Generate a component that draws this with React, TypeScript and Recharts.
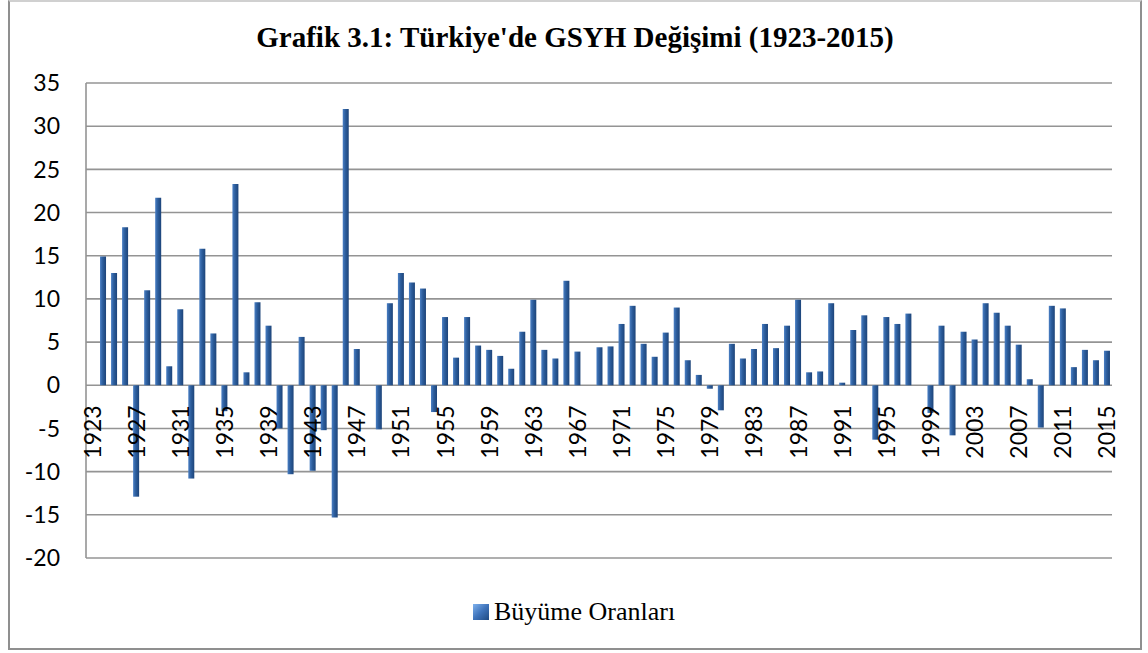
import React from 'react'
import { Bar, BarChart, CartesianGrid, Legend, XAxis, YAxis } from 'recharts'

const years = [
  '1923', '1924', '1925', '1926', '1927', '1928', '1929', '1930', '1931', '1932',
  '1933', '1934', '1935', '1936', '1937', '1938', '1939', '1940', '1941', '1942',
  '1943', '1944', '1945', '1946', '1947', '1948', '1949', '1950', '1951', '1952',
  '1953', '1954', '1955', '1956', '1957', '1958', '1959', '1960', '1961', '1962',
  '1963', '1964', '1965', '1966', '1967', '1968', '1969', '1970', '1971', '1972',
  '1973', '1974', '1975', '1976', '1977', '1978', '1979', '1980', '1981', '1982',
  '1983', '1984', '1985', '1986', '1987', '1988', '1989', '1990', '1991', '1992',
  '1993', '1994', '1995', '1996', '1997', '1998', '1999', '2000', '2001', '2002',
  '2003', '2004', '2005', '2006', '2007', '2008', '2009', '2010', '2011', '2012',
  '2013', '2014', '2015',
]

// Büyüme oranları (%), boş yıllar null
const growth: (number | null)[] = [
  null, 14.9, 13.0, 18.3, -12.9, 11.0, 21.7, 2.2, 8.8, -10.8,
  15.8, 6.0, -3.0, 23.3, 1.5, 9.6, 6.9, -5.0, -10.3, 5.6,
  -9.9, -5.2, -15.3, 32.0, 4.2, null, -5.1, 9.5, 13.0, 11.9,
  11.2, -3.1, 7.9, 3.2, 7.9, 4.6, 4.1, 3.4, 1.9, 6.2,
  9.9, 4.1, 3.1, 12.1, 3.9, null, 4.4, 4.5, 7.1, 9.2,
  4.8, 3.3, 6.1, 9.0, 2.9, 1.2, -0.4, -2.9, 4.8, 3.1,
  4.2, 7.1, 4.3, 6.9, 9.9, 1.5, 1.6, 9.5, 0.3, 6.4,
  8.1, -6.3, 7.9, 7.1, 8.3, null, -3.2, 6.9, -5.8, 6.2,
  5.3, 9.5, 8.4, 6.9, 4.7, 0.7, -4.9, 9.2, 8.9, 2.1,
  4.1, 2.9, 4.0,
]

const yTicks = [-20, -15, -10, -5, 0, 5, 10, 15, 20, 25, 30, 35]

const data = years.map((year, i) => ({ year, value: growth[i] }))

const W = 1148
const H = 653
const PLOT_TOP = 83
const PLOT_BOTTOM = 558
const PLOT_H = PLOT_BOTTOM - PLOT_TOP
const Y_MIN = -20
const Y_MAX = 35

const gridColor = '#949494'
const tickFont = "Lato, 'Open Sans', sans-serif"

function YearTick(props: any) {
  const { x, y, payload } = props
  // etiketler sıfır çizgisinin hemen altında
  const zeroY = y - (PLOT_H * (0 - Y_MIN)) / (Y_MAX - Y_MIN)
  const ty = zeroY + 20
  return (
    <text
      x={x}
      y={ty}
      transform={`rotate(-90 ${x} ${ty})`}
      textAnchor="end"
      dominantBaseline="central"
      style={{ fontFamily: tickFont, fontSize: 23 }}
      fill="#000"
    >
      {payload.value}
    </text>
  )
}

function LegendContent() {
  return (
    <div style={{ display: 'flex', justifyContent: 'center', alignItems: 'center' }}>
      <svg width={16} height={16} style={{ marginRight: 5 }}>
        <defs>
          <linearGradient id="legIcon" x1="0" y1="0" x2="1" y2="1">
            <stop offset="0%" stopColor="#7fb2ee" />
            <stop offset="50%" stopColor="#3f74bb" />
            <stop offset="100%" stopColor="#1f4a82" />
          </linearGradient>
        </defs>
        <rect x={0} y={0} width={16} height={16} fill="url(#legIcon)" />
      </svg>
      <span style={{ fontFamily: "'Liberation Serif', 'DejaVu Serif', serif", fontSize: 26, color: '#000' }}>
        Büyüme Oranları
      </span>
    </div>
  )
}

export default function App() {
  return (
    <div style={{ position: 'absolute', left: 0, top: 0, width: W, height: H, background: '#fff' }}>
      <div
        style={{
          position: 'absolute',
          left: 8,
          top: 0,
          width: 1134,
          height: 650,
          border: '2px solid #8f8f8f',
          borderTopColor: '#d0d0d0',
          boxSizing: 'border-box',
        }}
      />
      <div
        style={{
          position: 'absolute',
          left: 8,
          top: 23,
          width: 1134,
          textAlign: 'center',
          fontFamily: "'Liberation Serif', 'DejaVu Serif', serif",
          fontWeight: 'bold',
          fontSize: 29,
          lineHeight: 1,
          color: '#000',
        }}
      >
        Grafik 3.1: Türkiye'de GSYH Değişimi (1923-2015)
      </div>
      <div style={{ position: 'absolute', left: 0, top: 0 }}>
        <BarChart
          width={W}
          height={H}
          data={data}
          margin={{ top: PLOT_TOP, right: 36, bottom: H - PLOT_BOTTOM - 1, left: 26 }}
          barCategoryGap={0}
        >
          <defs>
            <linearGradient id="barFill" x1="0" y1="0" x2="1" y2="0">
              <stop offset="0%" stopColor="#4a7fc4" />
              <stop offset="45%" stopColor="#2c5d9c" />
              <stop offset="100%" stopColor="#1d4479" />
            </linearGradient>
          </defs>
          <CartesianGrid vertical={false} stroke={gridColor} strokeWidth={1.6} />
          <XAxis
            dataKey="year"
            height={1}
            interval={3}
            axisLine={false}
            tickLine={false}
            tickSize={0}
            tickMargin={0}
            tick={<YearTick />}
          />
          <YAxis
            width={60}
            domain={[Y_MIN, Y_MAX]}
            ticks={yTicks}
            allowDataOverflow
            axisLine={{ stroke: gridColor, strokeWidth: 1.6 }}
            tickLine={false}
            tickSize={0}
            tickMargin={26}
            tick={{ style: { fontFamily: tickFont, fontSize: 23 }, fill: '#000' }}
          />
          <Legend
            verticalAlign="middle"
            layout="horizontal"
            content={<LegendContent />}
            wrapperStyle={{ top: 597, left: 0, width: W }}
          />
          <Bar
            dataKey="value"
            name="Büyüme Oranları"
            fill="url(#barFill)"
            barSize={6}
            isAnimationActive={false}
          />
        </BarChart>
      </div>
    </div>
  )
}
